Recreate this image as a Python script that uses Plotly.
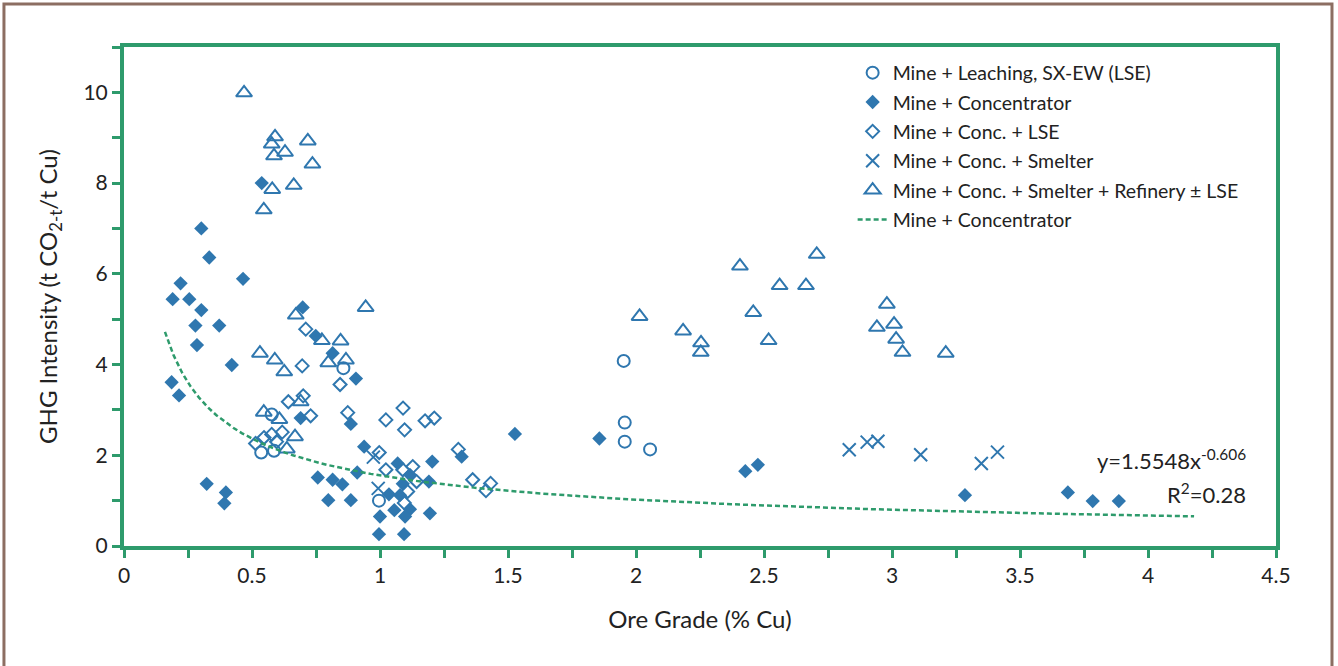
import plotly.graph_objects as go

# ---- data ----
lse_x = [0.536, 0.586, 0.577, 0.857, 0.996, 1.952, 1.956, 1.956, 2.055]
lse_y = [2.06, 2.10, 2.90, 3.92, 1.00, 4.08, 2.72, 2.30, 2.13]

conc_x = [0.538, 0.302, 0.333, 0.465, 0.221, 0.190, 0.255, 0.302, 0.279, 0.372,
          0.285, 0.421, 0.186, 0.215, 0.323, 0.398, 0.392, 0.698, 0.749, 0.815,
          0.906, 0.690, 0.886, 1.527, 0.938, 1.069, 1.117, 1.204, 1.319, 0.911,
          0.757, 0.815, 0.853, 1.191, 1.089, 1.035, 1.078, 0.798, 0.886, 1.117,
          1.056, 1.098, 1.195, 1.000, 0.996, 1.094, 1.857, 2.427, 2.476, 3.285,
          3.687, 3.784, 3.886]
conc_y = [8.00, 7.00, 6.36, 5.89, 5.79, 5.44, 5.44, 5.20, 4.86, 4.86,
          4.43, 3.99, 3.61, 3.32, 1.37, 1.18, 0.94, 5.26, 4.63, 4.25,
          3.69, 2.82, 2.69, 2.47, 2.19, 1.82, 1.57, 1.86, 1.97, 1.62,
          1.51, 1.46, 1.36, 1.42, 1.37, 1.14, 1.12, 1.01, 1.01, 0.81,
          0.79, 0.65, 0.72, 0.65, 0.26, 0.26, 2.37, 1.65, 1.79, 1.12,
          1.18, 0.99, 0.99]

conc_lse_x = [0.710, 0.696, 0.844, 0.700, 0.642, 0.729, 0.874, 1.023, 1.090, 1.096,
              1.176, 1.212, 0.618, 0.577, 0.547, 0.596, 0.514, 0.997, 1.128, 1.023,
              1.089, 1.306, 1.143, 1.362, 1.432, 1.414, 1.108, 1.095]
conc_lse_y = [4.78, 3.97, 3.56, 3.31, 3.18, 2.87, 2.94, 2.78, 3.04, 2.56,
              2.76, 2.82, 2.51, 2.46, 2.39, 2.30, 2.26, 2.06, 1.75, 1.68,
              1.68, 2.13, 1.42, 1.46, 1.38, 1.22, 1.20, 0.95]

smelt_x = [0.974, 0.993, 2.833, 2.903, 2.945, 3.112, 3.349, 3.412]
smelt_y = [1.96, 1.27, 2.12, 2.29, 2.31, 2.01, 1.82, 2.07]

ref_x = [0.469, 0.590, 0.577, 0.629, 0.586, 0.718, 0.736, 0.579, 0.663, 0.546,
         0.671, 0.944, 0.531, 0.589, 0.626, 0.773, 0.846, 0.798, 0.867, 0.690,
         0.546, 0.607, 0.668, 0.636, 2.014, 2.184, 2.254, 2.253, 2.406, 2.458,
         2.518, 2.561, 2.664, 2.706, 2.980, 2.941, 3.008, 3.016, 3.041, 3.210]
ref_y = [9.99, 9.02, 8.86, 8.68, 8.60, 8.93, 8.42, 7.86, 7.95, 7.41,
         5.09, 5.26, 4.25, 4.10, 3.84, 4.53, 4.52, 4.04, 4.10, 3.18,
         2.95, 2.79, 2.41, 2.14, 5.06, 4.74, 4.48, 4.27, 6.17, 5.15,
         4.53, 5.74, 5.74, 6.43, 5.33, 4.82, 4.89, 4.56, 4.27, 4.25]

# power-law fit shown on the chart: y = a * x^b
fit_a = 1.5548
fit_b = -0.606
fit_x_start = 0.16
fit_x_end = 4.18
fit_steps = 120

x_ticks = [0, 0.5, 1, 1.5, 2, 2.5, 3, 3.5, 4, 4.5]
x_tick_text = ["0", "0.5", "1", "1.5", "2", "2.5", "3", "3.5", "4", "4.5"]
y_ticks = [0, 2, 4, 6, 8, 10]

# ---- style ----
BLUE = "#2F77AF"
GREEN = "#2E9B6C"
BROWN = "#8C6E62"
FONT = "Lato"
TXT = "#222"

fit_x = [fit_x_start + (fit_x_end - fit_x_start) * i / fit_steps for i in range(fit_steps + 1)]
fit_y = [fit_a * v ** fit_b for v in fit_x]

fig = go.Figure()
fig.add_trace(go.Scatter(x=lse_x, y=lse_y, mode="markers", name="Mine + Leaching, SX-EW (LSE)", legendgroup="g1",
                         marker=dict(symbol="circle-open", size=12, color=BLUE, line=dict(width=2, color=BLUE))))
fig.add_trace(go.Scatter(x=conc_x, y=conc_y, mode="markers", name="Mine + Concentrator", legendgroup="g2",
                         marker=dict(symbol="diamond", size=11, color=BLUE, line=dict(width=0))))
fig.add_trace(go.Scatter(x=conc_lse_x, y=conc_lse_y, mode="markers", name="Mine + Conc. + LSE", legendgroup="g3",
                         marker=dict(symbol="diamond-open", size=10, color=BLUE, line=dict(width=2, color=BLUE))))
fig.add_trace(go.Scatter(x=smelt_x, y=smelt_y, mode="markers", name="Mine + Conc. + Smelter", legendgroup="g4",
                         marker=dict(symbol="x-thin-open", size=13, color=BLUE, line=dict(width=2, color=BLUE))))
fig.add_trace(go.Scatter(x=ref_x, y=ref_y, mode="markers", name="Mine + Conc. + Smelter + Refinery ± LSE", legendgroup="g5",
                         marker=dict(symbol="triangle-up-open", size=14, color=BLUE, line=dict(width=2, color=BLUE))))
fig.add_trace(go.Scatter(x=fit_x, y=fit_y, mode="lines", name="Mine + Concentrator", legendgroup="g6",
                         line=dict(color=GREEN, width=2.5, dash="5px,3px")))

axis_common = dict(showline=True, linecolor=GREEN, linewidth=4, mirror=True,
                   ticks="outside", tickcolor=GREEN, tickwidth=2.5, ticklen=8,
                   showgrid=False, zeroline=False,
                   tickfont=dict(family=FONT, size=21, color=TXT))

fig.update_xaxes(range=[0, 4.5], tickmode="array", tickvals=x_ticks, ticktext=x_tick_text,
                 minor=dict(dtick=0.25, ticks="outside", ticklen=8, tickwidth=2.5, tickcolor=GREEN),
                 title=dict(text="Ore Grade (% Cu)", font=dict(family=FONT, size=24, color=TXT), standoff=26),
                 **axis_common)
fig.update_yaxes(range=[0, 11], tickmode="array", tickvals=y_ticks,
                 minor=dict(dtick=1, ticks="outside", ticklen=8, tickwidth=2.5, tickcolor=GREEN),
                 title=dict(text="GHG Intensity (t CO<sub>2-t</sub>/t Cu)", font=dict(family=FONT, size=24, color=TXT), standoff=20),
                 **axis_common)

fig.add_annotation(x=0.9757, xref="paper", y=1.90, yref="y", xanchor="right", yanchor="middle",
                   text="y=1.5548x<sup>-0.606</sup>", showarrow=False,
                   font=dict(family=FONT, size=22, color=TXT))
fig.add_annotation(x=0.9757, xref="paper", y=1.15, yref="y", xanchor="right", yanchor="middle",
                   text="R<sup>2</sup>=0.28", showarrow=False,
                   font=dict(family=FONT, size=22, color=TXT))

fig.add_shape(type="rect", xref="paper", yref="paper",
              x0=-0.1042, x1=1.0486, y0=-0.26, y1=1.0862,
              line=dict(color=BROWN, width=3), layer="below")

fig.update_layout(
    width=1338, height=666,
    margin=dict(l=124, r=62, t=47, b=120),
    paper_bgcolor="white", plot_bgcolor="white",
    font=dict(family=FONT, size=19, color=TXT),
    showlegend=True,
    legend=dict(x=0.6325, y=0.987, xanchor="left", yanchor="top",
                bgcolor="rgba(0,0,0,0)", borderwidth=0,
                font=dict(family=FONT, size=19.5, color=TXT),
                itemwidth=30, traceorder="grouped", tracegroupgap=1),
)

fig.write_html("out.html", config={"displayModeBar": False},
               post_script="document.body.style.margin='0px';document.body.style.overflow='hidden';")
